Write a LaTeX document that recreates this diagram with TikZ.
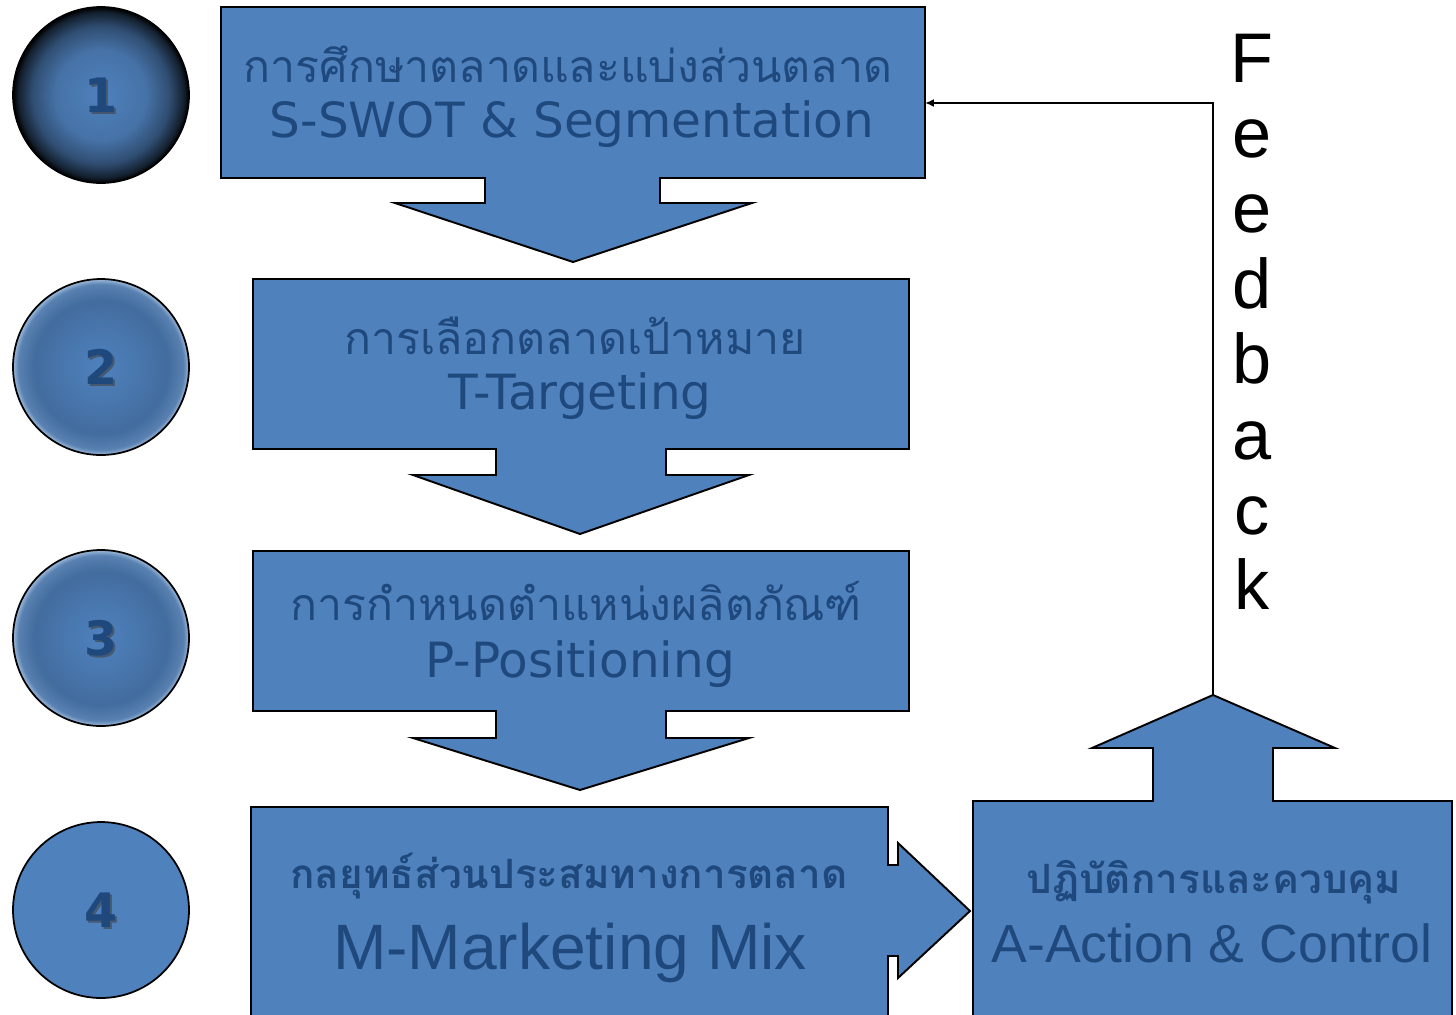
\documentclass[tikz,border=0pt]{standalone}
\usepackage{fontspec}
\setmainfont{DejaVu Sans}
\newfontfamily\thaifont[Script=Thai]{Loma}
\newfontfamily\arialfont{Liberation Sans}
\usetikzlibrary{arrows.meta}

\definecolor{stpblue}{RGB}{79,129,189}
\definecolor{stptext}{RGB}{31,73,125}

% shadings for the step balls
\pgfdeclareradialshading{ballone}{\pgfpoint{0bp}{0bp}}{%
  color(0bp)=(stpblue); color(13bp)=(stpblue!88!black);
  color(19.5bp)=(stpblue!60!black); color(23.5bp)=(stpblue!25!black);
  color(25bp)=(black); color(50bp)=(black)}
\pgfdeclareradialshading{balltwo}{\pgfpoint{0bp}{0bp}}{%
  color(0bp)=(stpblue); color(9bp)=(stpblue!93!black);
  color(19bp)=(stpblue!84!black); color(23.5bp)=(stpblue!80!gray);
  color(25bp)=(stpblue!55!white); color(50bp)=(stpblue!55!white)}

\tikzset{
  stepshape/.style={fill=stpblue, draw=black, line width=1.1pt, line join=miter},
  ball/.style={circle, draw=black, line width=1pt, minimum size=3.52cm, inner sep=0pt},
  numtext/.style={text=stptext, font=\bfseries\fontsize{27}{27}\selectfont},
  numshadow/.style={text=black!75, opacity=0.6, font=\bfseries\fontsize{27}{27}\selectfont},
  thtext/.style={anchor=base, text=stptext, inner sep=0pt, font=\thaifont\fontsize{25.4}{25.4}\selectfont},
  entext/.style={anchor=base, text=stptext, inner sep=0pt, font=\fontsize{27.6}{27.6}\selectfont},
  thbold/.style={anchor=base, text=stptext, inner sep=0pt, font=\thaifont\bfseries\fontsize{23}{23}\selectfont},
  artext/.style={anchor=base, text=stptext, inner sep=0pt, font=\arialfont\fontsize{36.5}{36.5}\selectfont},
  fbletter/.style={anchor=base, inner sep=0pt, font=\arialfont\fontsize{40}{40}\selectfont}
}

\begin{document}
\begin{tikzpicture}[x=0.02cm,y=-0.02cm]
    \useasboundingbox[fill=white] (0,0) rectangle (1456,1014);
    % step balls
    \node[ball, shading=ballone] (c1) at (101,95) {};
    \node[ball, shading=balltwo] (c2) at (101,367) {};
    \node[ball, shading=balltwo] (c3) at (101,638) {};
    \node[ball, fill=stpblue] (c4) at (101,910) {};
    % step numbers
    \node[numshadow] (s1) at ([shift={(2,2)}]c1) {1};
    \node[numtext] (n1) at (c1) {1};
    \node[numshadow] (s2) at ([shift={(2,2)}]c2) {2};
    \node[numtext] (n2) at (c2) {2};
    \node[numshadow] (s3) at ([shift={(2,2)}]c3) {3};
    \node[numtext] (n3) at (c3) {3};
    \node[numshadow] (s4) at ([shift={(2,2)}]c4) {4};
    \node[numtext] (n4) at (c4) {4};
    % boxes with down arrows
    \draw[stepshape] (221,7) -- (925,7) -- (925,178) -- (660,178) -- (660,203)
        -- (752,203) -- (573,262) -- (395,203) -- (485,203) -- (485,178)
        -- (221,178) -- cycle;
    \draw[stepshape] (253,279) -- (909,279) -- (909,449) -- (666,449) -- (666,475)
        -- (749,475) -- (580,534) -- (413,475) -- (496,475) -- (496,449)
        -- (253,449) -- cycle;
    \draw[stepshape] (253,551) -- (909,551) -- (909,711) -- (666,711) -- (666,738)
        -- (749,738) -- (580,790) -- (413,738) -- (496,738) -- (496,711)
        -- (253,711) -- cycle;
    % mix box with right arrow
    \draw[stepshape] (251,807) -- (888,807) -- (888,865) -- (898,865) -- (898,843)
        -- (970,911) -- (898,978) -- (898,956) -- (888,956) -- (888,1030)
        -- (251,1030) -- cycle;
    % action box with up arrow
    \draw[stepshape] (973,801) -- (1153,801) -- (1153,748) -- (1092,748)
        -- (1213,695) -- (1335,748) -- (1273,748) -- (1273,801) -- (1452,801)
        -- (1452,1030) -- (973,1030) -- cycle;
    % text
    \node[thtext] (t1) at (568,82) {การศึกษาตลาดและแบ่งส่วนตลาด};
    \node[entext] (e1) at (572,137) {S-SWOT \& Segmentation};
    \node[thtext] (t2) at (575,354) {การเลือกตลาดเป้าหมาย};
    \node[entext] (e2) at (580,409) {T-Targeting};
    \node[thtext] (t3) at (576,620) {การกำหนดตำแหน่งผลิตภัณฑ์};
    \node[entext] (e3) at (580,677) {P-Positioning};
    \node[thbold] (t4) at (569,888) {กลยุทธ์ส่วนประสมทางการตลาด};
    \node[artext] (e4) at (570,969) {M-Marketing Mix};
    \node[thbold] (t5) at (1214,893) {ปฏิบัติการและควบคุม};
    \node[artext, font=\arialfont\fontsize{30.5}{30.5}\selectfont] (e5) at (1212,962) {A-Action \& Control};
    % feedback loop
    \coordinate (fbtip) at (1213,695);
    \coordinate (fbturn) at (1213,103);
    \coordinate (s1in) at (925,103);
    \draw[line width=1.1pt, -{Latex[length=5pt,width=4.5pt]}] (fbtip) -- (fbturn) -- (s1in);
    \foreach \ch [count=\i from 0] in {F,e,e,d,b,a,c,k}
        \node[fbletter] (fb\i) at (1252,82+75.4*\i) {\ch};
\end{tikzpicture}
\end{document}
